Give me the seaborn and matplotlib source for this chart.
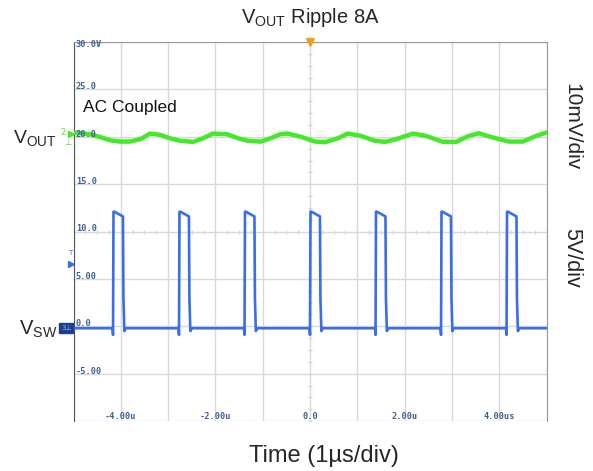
import numpy as np
import pandas as pd
import matplotlib
matplotlib.use("Agg")
import matplotlib.pyplot as plt
import seaborn as sns

# Vout ripple trace (AC coupled, 10mV/div): time in us, screen value
vout_t = [-5.00, -4.65, -4.44, -4.23, -4.02, -3.81, -3.59, -3.38, -3.17, -2.96,
          -2.75, -2.47, -2.26, -2.05, -1.75, -1.52, -1.31, -1.04, -0.85, -0.63,
          -0.47, -0.19, 0.11, 0.32, 0.59, 0.80, 1.08, 1.37, 1.59, 1.82,
          2.18, 2.45, 2.81, 3.09, 3.36, 3.57, 3.87, 4.21, 4.50, 4.78, 5.00]
vout_v = [20.45, 20.27, 19.98, 19.64, 19.50, 19.50, 19.75, 20.35, 20.21, 19.85,
          19.58, 19.47, 19.85, 20.35, 20.27, 19.85, 19.58, 19.50, 19.82, 20.27,
          20.35, 20.00, 19.50, 19.43, 19.85, 20.35, 20.10, 19.58, 19.47, 19.75,
          20.35, 20.10, 19.47, 19.47, 20.10, 20.38, 19.92, 19.50, 19.50, 20.10, 20.45]

# Switch node pulses (5V/div)
sw_rise = [-4.165, -2.77, -1.385, 0.0, 1.385, 2.77, 4.155]
sw_fall = [-3.945, -2.55, -1.165, 0.22, 1.605, 2.99, 4.375]
sw_high_start = 12.1
sw_high_end = 11.6
sw_low = -0.2
sw_dip = -0.9

y_ticks = [30, 25, 20, 15, 10, 5, 0, -5]
y_labels = ["30.0V", "25.0", "20.0", "15.0", "10.0", "5.00", "0.0", "-5.00"]
x_ticks = [-4, -2, 0, 2, 4]
x_labels = ["-4.00u", "-2.00u", "0.0", "2.00u", "4.00us"]

# build the switch node path from the edges
sw_t = [-5.0]
sw_v = [sw_low]
for r, f in zip(sw_rise, sw_fall):
    sw_t += [r - 0.01, r, r + 0.01, r + 0.03, f - 0.01, f, f + 0.02, f + 0.05]
    sw_v += [sw_low, sw_dip, sw_high_start, sw_high_start, sw_high_end, 3.0, sw_low - 0.3, sw_low]
sw_t.append(5.0)
sw_v.append(sw_low)

vout_df = pd.DataFrame({"t": vout_t, "v": vout_v})
sw_df = pd.DataFrame({"t": sw_t, "v": sw_v})

sns.set_style("white")
plt.rcParams["font.family"] = ["Liberation Sans", "DejaVu Sans"]
plt.rcParams["mathtext.fontset"] = "custom"
plt.rcParams["mathtext.rm"] = "Liberation Sans"
plt.rcParams["mathtext.it"] = "Liberation Sans:italic"

fig = plt.figure(figsize=(5.93, 4.71), dpi=100)
ax = fig.add_axes([0.124, 0.106, 0.7976, 0.8046])

grid_col = "#d9d9d9"
ax.set_xlim(-5, 5)
ax.set_ylim(-10, 30)
ax.set_xticks(np.arange(-5, 6, 1))
ax.set_yticks(np.arange(-10, 31, 5))
ax.grid(True, color=grid_col, lw=1)
ax.set_axisbelow(True)
ax.tick_params(length=0, labelbottom=False, labelleft=False)

# small ticks on the centre lines
cx = np.arange(-5, 5.01, 0.25)
cy = np.arange(-10, 30.01, 1.25)
ax.plot(cx, np.full(len(cx), 10.0), ls="none", marker="|", ms=3, color="#d6d6d6", zorder=1)
ax.plot(np.zeros(len(cy)), cy, ls="none", marker="_", ms=3, color="#d6d6d6", zorder=1)

sns.lineplot(data=sw_df, x="t", y="v", ax=ax, color="#3a6ee8", lw=1.9,
             estimator=None, sort=False, zorder=3)
sns.lineplot(data=vout_df, x="t", y="v", ax=ax, color="#45e82a", lw=3.2,
             estimator=None, sort=False, zorder=4)
ax.set_xlabel("")
ax.set_ylabel("")

ax.spines["left"].set_color("#555555")
for s in ["top", "right"]:
    ax.spines[s].set_color("#999999")
ax.spines["bottom"].set_visible(False)

lab_col = "#3e5f94"
for v, lab in zip(y_ticks, y_labels):
    yy = 29.75 if v == 30 else v + 0.28
    ax.text(-4.95, yy, lab, ha="left", va="center", fontsize=6.2, weight="bold",
            family="DejaVu Sans Mono", color=lab_col, zorder=5)
for v, lab in zip(x_ticks, x_labels):
    ax.text(v, -9.5, lab, ha="center", va="center", fontsize=6.2, weight="bold",
            family="DejaVu Sans Mono", color=lab_col, zorder=5)

ax.text(-4.8, 23.1, "AC Coupled", fontsize=12.5, ha="left", va="center", color="#111111")

# channel / trigger markers
ax.plot([0], [30], marker="v", ms=6, color="#f0a020", clip_on=False, zorder=6)
ax.text(-0.022, 20.5, "2", transform=ax.get_yaxis_transform(), color="#45e82a",
        fontsize=6, ha="center", va="center", family="DejaVu Sans")
ax.text(-0.012, 19.4, "⊥", transform=ax.get_yaxis_transform(), color="#45e82a",
        fontsize=6, ha="center", va="center", family="DejaVu Sans")
ax.plot([-0.006], [20.3], transform=ax.get_yaxis_transform(), marker=">", ms=4,
        color="#45e82a", clip_on=False)
ax.text(-0.015, -0.2, "3⊥", transform=ax.get_yaxis_transform(), color="#9db8ff",
        fontsize=5, ha="center", va="center", family="DejaVu Sans",
        bbox=dict(boxstyle="square,pad=0.25", fc="#1c3f8c", ec="#1c3f8c"))
ax.text(-0.008, 7.7, "T", transform=ax.get_yaxis_transform(), color="#3a6ee8",
        fontsize=5, ha="center", va="center", family="DejaVu Sans")
ax.plot([-0.006], [6.6], transform=ax.get_yaxis_transform(), marker=">", ms=4,
        color="#3a6ee8", clip_on=False)

# titles and side labels
fig.text(310 / 593, 1 - 23 / 471, r"V$_{\rm OUT}$ Ripple 8A", ha="center",
         va="baseline", fontsize=14.5)
fig.text(324 / 593, 1 - 462 / 471, "Time (1µs/div)", ha="center", va="baseline", fontsize=17)
fig.text(57 / 593, 1 - 143 / 471, r"V$_{\rm OUT}$", ha="right", va="baseline", fontsize=14)
fig.text(57 / 593, 1 - 335 / 471, r"V$_{\rm SW}$", ha="right", va="baseline", fontsize=14.5)
fig.text(572 / 593, 1 - 127 / 471, "10mV/div", rotation=-90, ha="center", va="center", fontsize=15)
fig.text(572 / 593, 1 - 258 / 471, "5V/div", rotation=-90, ha="center", va="center", fontsize=15.5)

fig.savefig("out.png", dpi=100)
